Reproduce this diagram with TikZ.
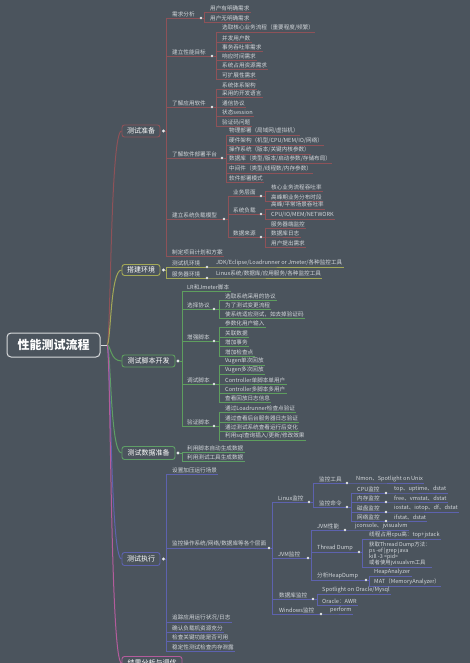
\documentclass[tikz,border=0pt]{standalone}
\usepackage{fontspec}
\newfontfamily\cjk{Noto Sans CJK SC}
\usetikzlibrary{calc}
\definecolor{bg}{HTML}{4B545D}
\definecolor{txt}{HTML}{D3D7DB}
\definecolor{cA}{HTML}{8E5258}
\definecolor{cB}{HTML}{A3A857}
\definecolor{cC}{HTML}{5E9E5E}
\definecolor{cD}{HTML}{5E9E66}
\definecolor{cE}{HTML}{5D62AE}
\definecolor{cF}{HTML}{B45C9C}
\definecolor{dotc}{HTML}{E6E8EA}
\definecolor{rootc}{HTML}{D8DADC}
\tikzset{
  lt/.style={anchor=west, inner sep=0pt, text=txt, font=\cjk\fontsize{5.6}{6.3}\selectfont},
  mainbox/.style={draw=#1, line width=0.9pt, rounded corners=2.5pt, fill=bg, text=white,
    font=\cjk\fontsize{7}{8}\selectfont, minimum height=12pt, inner xsep=2pt, inner ysep=0pt},
  rootbox/.style={draw=rootc, line width=1pt, rounded corners=4pt, fill=bg, text=white,
    font=\cjk\bfseries\fontsize{12}{14}\selectfont, minimum width=93pt, minimum height=24pt},
  conn/.style={line width=0.7pt},
  trunk/.style={line width=1pt},
}
% leaf: name, colour, parent dot x, parent line y, vertical x, text x, text y, text
\newcommand\tw[8]{%
  \node[lt] (#1) at (#6,#7) {#8};
  \draw[conn,#2] (#3+1.4,#4) -- (#5,#4) -- (#5,#7+4) -- ($(#1.east)+(1.2,4)$);
}
% parent: same plus own dot x
\newcommand\tp[9]{%
  \node[lt] (#1) at (#6,#7) {#8};
  \draw[conn,#2] (#3+1.4,#4) -- (#5,#4) -- (#5,#7+4) -- (#9-1.4,#7+4);
  \fill[dotc] (#9,#7+4) circle (1.4);
}
\begin{document}
\begin{tikzpicture}[x=1pt,y=-1pt]
\path[use as bounding box] (0,0) rectangle (470,663);
\clip (0,0) rectangle (470,663);
\fill[bg] (0,0) rectangle (470,663);

% ---------- root ----------
\node[rootbox] (root) at (53.5,345) {性能测试流程};
\node[mainbox=cA, minimum width=38pt] (b1) at (141,131) {测试准备};
\node[mainbox=cB, minimum width=38pt, minimum height=11pt] (b2) at (141,270) {搭建环境};
\node[mainbox=cC, minimum width=53pt] (b3) at (148.5,361) {测试脚本开发};
\node[mainbox=cD, minimum width=53pt, minimum height=13pt] (b4) at (148.5,453) {测试数据准备};
\node[mainbox=cE, minimum width=38pt, minimum height=13pt] (b5) at (141,559) {测试执行};
\node[mainbox=cF, minimum width=60pt, minimum height=13pt] (b6) at (152,663) {结果分析与调优};
\coordinate (hub) at (107,345);
\draw[trunk,cA] (hub) .. controls (111,345) and (110,131) .. (b1.west);
\draw[trunk,cB] (hub) .. controls (111,345) and (110,270) .. (b2.west);
\draw[trunk,cC] (hub) .. controls (111,345) and (110,361) .. (b3.west);
\draw[trunk,cD] (hub) .. controls (111,345) and (110,453) .. (b4.west);
\draw[trunk,cE] (hub) .. controls (111,345) and (110,559) .. (b5.west);
\draw[trunk,cF] (hub) .. controls (111,345) and (110,663) .. (b6.west);
\draw[trunk,rootc] (root.east) -- (hub);

% ---------- 测试准备 ----------
\fill[dotc] (163.5,131) circle (1.6);
\tp{a1}{cA}{163.5}{131}{166}{172}{14}{需求分析}{201}
\tw{a11}{cA}{201}{18}{204}{210}{8}{用户有明确需求}
\tw{a12}{cA}{201}{18}{204}{210}{18}{用户无明确需求}
\tp{a2}{cA}{163.5}{131}{166}{172}{52}{建立性能目标}{212}
\tw{a21}{cA}{212}{56}{216}{222}{28}{选取核心业务流程（重要程度/频繁）}
\tw{a22}{cA}{212}{56}{216}{222}{38}{并发用户数}
\tw{a23}{cA}{212}{56}{216}{222}{47}{事务吞吐率需求}
\tw{a24}{cA}{212}{56}{216}{222}{56}{响应时间需求}
\tw{a25}{cA}{212}{56}{216}{222}{65}{系统占用资源需求}
\tw{a26}{cA}{212}{56}{216}{222}{75}{可扩展性需求}
\tp{a3}{cA}{163.5}{131}{166}{172}{103}{了解应用软件}{212}
\tw{a31}{cA}{212}{107}{216}{222}{85}{系统体系架构}
\tw{a32}{cA}{212}{107}{216}{222}{93}{采用的开发语言}
\tw{a33}{cA}{212}{107}{216}{222}{103}{通信协议}
\tw{a34}{cA}{212}{107}{216}{222}{112}{状态session}
\tw{a35}{cA}{212}{107}{216}{222}{122}{验证码问题}
\tp{a4}{cA}{163.5}{131}{166}{172}{154}{了解软件部署平台}{222}
\tw{a41}{cA}{222}{158}{226}{229}{131}{物理部署（局域网/虚拟机）}
\tw{a42}{cA}{222}{158}{226}{229}{141}{硬件架构（机型/CPU/MEM/IO/网络）}
\tw{a43}{cA}{222}{158}{226}{229}{150}{操作系统（版本/关键内核参数）}
\tw{a44}{cA}{222}{158}{226}{229}{159}{数据库（类型/版本/启动参数/存储布局）}
\tw{a45}{cA}{222}{158}{226}{229}{169}{中间件（类型/线程数/内存参数）}
\tw{a46}{cA}{222}{158}{226}{229}{178}{软件部署模式}
\tp{a5}{cA}{163.5}{131}{166}{172}{215}{建立系统负载模型}{224}
\tp{a51}{cA}{224}{219}{228}{233}{192}{业务层面}{261}
\tw{a511}{cA}{261}{196}{265}{271}{187}{核心业务流程吞吐率}
\tw{a512}{cA}{261}{196}{265}{271}{197}{高峰期业务分布时段}
\tp{a52}{cA}{224}{219}{228}{233}{210}{系统负载}{261}
\tw{a521}{cA}{261}{214}{265}{271}{205}{高峰/平常场景吞吐率}
\tw{a522}{cA}{261}{214}{265}{271}{215}{CPU/IO/MEM/NETWORK}
\tp{a53}{cA}{224}{219}{228}{233}{233}{数据来源}{261}
\tw{a531}{cA}{261}{237}{265}{271}{224}{服务器端监控}
\tw{a532}{cA}{261}{237}{265}{271}{233}{数据库日志}
\tw{a533}{cA}{261}{237}{265}{271}{243}{用户提出需求}
\tw{a6}{cA}{163.5}{131}{166}{172}{252}{制定项目计划和方案}

% ---------- 搭建环境 ----------
\fill[dotc] (163.5,270) circle (1.6);
\tp{e1}{cB}{163.5}{270}{166}{172}{263}{测试机环境}{207}
\tw{e11}{cB}{207}{267}{211}{216}{263}{JDK/Eclipse/Loadrunner or Jmeter/各种监控工具}
\tp{e2}{cB}{163.5}{270}{166}{172}{274}{服务器环境}{207}
\tw{e21}{cB}{207}{278}{211}{216}{274}{Linux系统/数据库/应用服务/各种监控工具}

% ---------- 测试脚本开发 ----------
\fill[dotc] (178,361) circle (1.6);
\tw{s1}{cC}{178}{361}{182}{187}{287}{LR和Jmeter脚本}
\tp{s2}{cC}{178}{361}{182}{187}{305}{选择协议}{214}
\tw{s21}{cC}{214}{309}{219}{225}{296}{选取系统采用的协议}
\tw{s22}{cC}{214}{309}{219}{225}{305}{为了测试变更流程}
\tw{s23}{cC}{214}{309}{219}{225}{314}{使系统适应测试，如去掉验证码}
\tp{s3}{cC}{178}{361}{182}{187}{337}{增强脚本}{214}
\tw{s31}{cC}{214}{341}{219}{225}{323}{参数化用户输入}
\tw{s32}{cC}{214}{341}{219}{225}{333}{关联数据}
\tw{s33}{cC}{214}{341}{219}{225}{342}{增加事务}
\tw{s34}{cC}{214}{341}{219}{225}{352}{增加检查点}
\tp{s4}{cC}{178}{361}{182}{187}{380}{调试脚本}{214}
\tw{s41}{cC}{214}{384}{219}{225}{361}{Vugen单次回放}
\tw{s42}{cC}{214}{384}{219}{225}{370}{Vugen多次回放}
\tw{s43}{cC}{214}{384}{219}{225}{380}{Controller单脚本单用户}
\tw{s44}{cC}{214}{384}{219}{225}{389}{Controller多脚本多用户}
\tw{s45}{cC}{214}{384}{219}{225}{398}{查看回放日志信息}
\tp{s5}{cC}{178}{361}{182}{187}{422}{验证脚本}{214}
\tw{s51}{cC}{214}{426}{219}{225}{408}{通过Loadrunner检查点验证}
\tw{s52}{cC}{214}{426}{219}{225}{418}{通过查看后台服务器日志验证}
\tw{s53}{cC}{214}{426}{219}{225}{427}{通过测试系统查看运行后变化}
\tw{s54}{cC}{214}{426}{219}{225}{436}{利用sql查询插入/更新/修改效果}

% ---------- 测试数据准备 ----------
\fill[dotc] (178,453) circle (1.6);
\tw{d1}{cD}{178}{453}{182}{187}{448}{利用脚本自动生成数据}
\tw{d2}{cD}{178}{453}{182}{187}{457}{利用测试工具生成数据}

% ---------- 测试执行 ----------
\fill[dotc] (163.5,559) circle (1.6);
\tw{x1}{cE}{163.5}{559}{166}{172}{470}{设置加压运行场景}
\tp{x2}{cE}{163.5}{559}{166}{172}{544}{监控操作系统/网络/数据库等各个层面}{269}
\tp{x21}{cE}{269}{548}{272}{278}{498}{Linux监控}{309}
\tp{x211}{cE}{309}{502}{313}{319}{479}{监控工具}{347}
\tw{x2111}{cE}{347}{483}{351}{356}{479}{Nmon、Spotlight on Unix}
\tp{x212}{cE}{309}{502}{313}{319}{503}{监控命令}{347}
\tp{x2121}{cE}{347}{507}{351}{357}{489}{CPU监控}{386}
\tw{x21211}{cE}{386}{493}{390}{394}{489}{top、uptime、dstat}
\tp{x2122}{cE}{347}{507}{351}{357}{498}{内存监控}{386}
\tw{x21221}{cE}{386}{502}{390}{394}{498}{free、vmstat、dstat}
\tp{x2123}{cE}{347}{507}{351}{357}{508}{磁盘监控}{386}
\tw{x21231}{cE}{386}{512}{390}{394}{508}{iostat、iotop、df、dstat}
\tp{x2124}{cE}{347}{507}{351}{357}{517}{网络监控}{386}
\tw{x21241}{cE}{386}{521}{390}{394}{517}{ifstat、dstat}
\tp{x22}{cE}{269}{548}{272}{278}{554}{JVM监控}{308}
\tp{x221}{cE}{308}{558}{311}{317}{526}{JVM性能}{345}
\tw{x2211}{cE}{345}{530}{349}{355}{526}{jconsole、jvisualvm}
\tp{x222}{cE}{308}{558}{311}{317}{548}{Thread Dump}{359}
\tw{x2221}{cE}{359}{552}{362}{369}{535}{线程占用cpu高：top+jstack}
\node[lt, align=left, font=\cjk\fontsize{5.4}{6}\selectfont] (x2222) at (369,554)
  {获取Thread Dump方法：\\ps -ef |grep java\\kill -3 <pid>\\或者使用jvisualvm工具};
\draw[conn,cE] (360.4,552) -- (362,552) |- ($(x2222.south east)+(1.2,1.5)$);
\tp{x223}{cE}{308}{558}{311}{317}{576}{分析HeapDump}{366}
\tw{x2231}{cE}{366}{580}{369}{374}{572}{HeapAnalyzer}
\tw{x2232}{cE}{366}{580}{369}{374}{582}{MAT（MemoryAnalyzer）}
\tp{x23}{cE}{269}{548}{272}{279}{595}{数据库监控}{313}
\tw{x231}{cE}{313}{599}{317}{322}{590}{Spotlight on Oracle/Mysql}
\tw{x232}{cE}{313}{599}{317}{322}{601}{Oracle：AWR}
\tp{x24}{cE}{269}{548}{272}{279}{610}{Windows监控}{321}
\tw{x241}{cE}{321}{614}{325}{330}{610}{perform}
\tw{x3}{cE}{163.5}{559}{166}{172}{618}{追踪应用运行状况/日志}
\tw{x4}{cE}{163.5}{559}{166}{172}{628}{确认负载机资源充分}
\tw{x5}{cE}{163.5}{559}{166}{172}{637}{检查关键功能是否可用}
\tw{x6}{cE}{163.5}{559}{166}{172}{647}{稳定性测试检查内存泄露}
\end{tikzpicture}
\end{document}
